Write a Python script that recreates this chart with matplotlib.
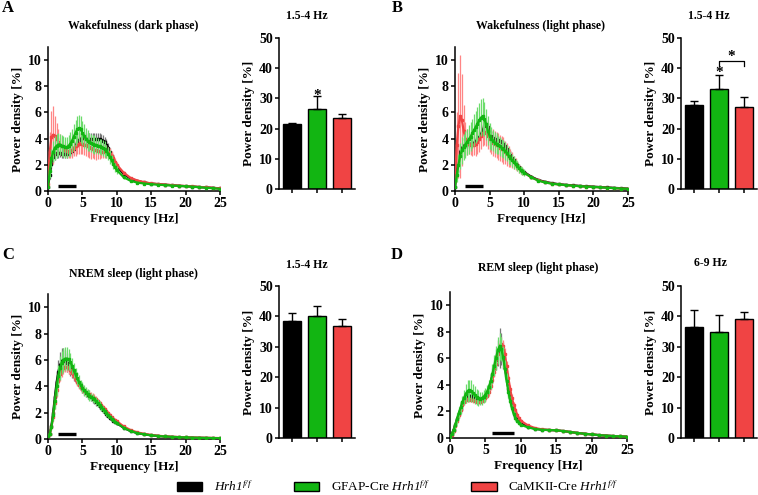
import numpy as np
import matplotlib
matplotlib.use("Agg")
import matplotlib.pyplot as plt
from matplotlib.patches import Patch

plt.rcParams['font.family'] = ['Liberation Serif', 'DejaVu Serif']
plt.rcParams['font.weight'] = 'bold'
plt.rcParams['mathtext.fontset'] = 'custom'
plt.rcParams['mathtext.rm'] = 'Liberation Serif:style=italic:weight=normal'
plt.rcParams['mathtext.it'] = 'Liberation Serif:style=italic:weight=normal'

# frequency bins: 0.25 Hz up to 10 Hz, then 1 Hz
freq = np.concatenate([np.arange(0, 10.01, 0.25), np.arange(11, 26, 1.0)])

groups = ['Hrh1 f/f', 'GFAP-Cre Hrh1 f/f', 'CaMKII-Cre Hrh1 f/f']
colors = ['#000000', '#12b512', '#f04444']
err_colors = ['#777777', '#6cdc6c', '#ff8585']

sem_tail = [0.1, 0.08, 0.06, 0.05, 0.05, 0.04, 0.04, 0.04, 0.03, 0.03, 0.03, 0.03, 0.03, 0.03, 0.03]

# ---- A: wakefulness dark phase
wake_dark_ctrl = [0.3, 1.2, 2.1, 2.6, 2.8, 2.9, 2.9, 2.9, 2.85, 2.85, 2.85, 2.85, 2.9, 2.95, 3.05, 3.2, 3.45, 3.7, 3.9, 4.0,
                  4.05, 4.05, 4.0, 3.95, 3.95, 3.95, 3.95, 3.95, 3.95, 3.95, 3.95, 3.9, 3.85, 3.75, 3.55, 3.3, 3.0, 2.7, 2.4, 2.15, 1.9,
                  1.3, 0.95, 0.76, 0.65, 0.57, 0.52, 0.48, 0.44, 0.40, 0.37, 0.34, 0.30, 0.27, 0.24, 0.20]
wake_dark_ctrl_sem = [0.1, 0.3, 0.4, 0.4, 0.4, 0.4, 0.35, 0.3, 0.3, 0.3, 0.3, 0.3, 0.3, 0.3, 0.35, 0.35, 0.4, 0.4, 0.45, 0.45,
                      0.45, 0.45, 0.45, 0.45, 0.45, 0.45, 0.45, 0.45, 0.45, 0.45, 0.45, 0.45, 0.4, 0.4, 0.4, 0.35, 0.3, 0.3, 0.25, 0.2, 0.2]
wake_dark_gfap = [0.3, 1.5, 2.5, 3.0, 3.3, 3.45, 3.55, 3.55, 3.45, 3.4, 3.35, 3.35, 3.45, 3.6, 3.85, 4.15, 4.45, 4.7, 4.8, 4.7,
                  4.45, 4.2, 4.0, 3.85, 3.75, 3.65, 3.6, 3.55, 3.5, 3.45, 3.4, 3.35, 3.3, 3.2, 3.05, 2.85, 2.6, 2.35, 2.05, 1.8, 1.6,
                  1.05, 0.78, 0.64, 0.57, 0.52, 0.48, 0.45, 0.42, 0.39, 0.36, 0.33, 0.29, 0.25, 0.21, 0.17]
wake_dark_gfap_sem = [0.1, 0.5, 0.7, 0.8, 0.9, 0.9, 0.9, 0.8, 0.8, 0.8, 0.8, 0.8, 0.8, 0.9, 0.9, 1.0, 1.0, 1.0, 1.0, 1.0,
                      0.9, 0.9, 0.8, 0.8, 0.7, 0.7, 0.7, 0.7, 0.6, 0.6, 0.6, 0.6, 0.6, 0.6, 0.5, 0.5, 0.5, 0.4, 0.4, 0.35, 0.3]
wake_dark_camk = [0.5, 3.0, 4.1, 4.3, 4.2, 4.0, 3.75, 3.55, 3.4, 3.25, 3.15, 3.05, 3.0, 3.05, 3.15, 3.3, 3.4, 3.5, 3.6, 3.65,
                  3.6, 3.55, 3.5, 3.4, 3.35, 3.25, 3.2, 3.15, 3.1, 3.05, 3.05, 3.0, 3.0, 3.0, 3.0, 2.95, 2.85, 2.7, 2.5, 2.25, 2.0,
                  1.4, 1.0, 0.8, 0.67, 0.58, 0.53, 0.49, 0.45, 0.41, 0.38, 0.35, 0.31, 0.28, 0.24, 0.20]
wake_dark_camk_sem = [0.3, 1.5, 2.0, 2.2, 1.5, 1.2, 1.0, 0.8, 0.7, 0.6, 0.5, 0.5, 0.5, 0.5, 0.6, 0.6, 0.7, 0.7, 0.8, 0.8,
                      0.8, 0.8, 0.8, 0.8, 0.8, 0.8, 0.7, 0.7, 0.7, 0.6, 0.6, 0.5, 0.5, 0.5, 0.5, 0.4, 0.4, 0.35, 0.3, 0.25, 0.2]

# ---- B: wakefulness light phase
wake_light_ctrl = [0.3, 1.5, 2.5, 3.0, 3.3, 3.45, 3.55, 3.6, 3.6, 3.6, 3.6, 3.7, 3.8, 3.95, 4.1, 4.35, 4.65, 4.95, 5.1, 4.9,
                   4.5, 4.2, 4.05, 3.95, 3.9, 3.9, 3.85, 3.75, 3.6, 3.4, 3.2, 2.95, 2.75, 2.55, 2.35, 2.15, 2.0, 1.85, 1.7, 1.55, 1.45,
                   1.1, 0.85, 0.7, 0.6, 0.52, 0.47, 0.43, 0.39, 0.36, 0.33, 0.3, 0.27, 0.24, 0.21, 0.18]
wake_light_ctrl_sem = [0.1, 0.3, 0.4, 0.4, 0.4, 0.3, 0.3, 0.3, 0.3, 0.3, 0.3, 0.3, 0.3, 0.3, 0.3, 0.3, 0.3, 0.3, 0.3, 0.3,
                       0.3, 0.3, 0.3, 0.3, 0.3, 0.3, 0.3, 0.3, 0.3, 0.3, 0.3, 0.25, 0.25, 0.2, 0.2, 0.2, 0.15, 0.15, 0.15, 0.1, 0.1]
wake_light_gfap = [0.3, 1.2, 2.0, 2.7, 3.1, 3.35, 3.55, 3.75, 3.95, 4.15, 4.4, 4.65, 4.9, 5.15, 5.4, 5.6, 5.7, 5.5, 5.1, 4.6,
                   4.2, 4.0, 3.85, 3.7, 3.6, 3.5, 3.4, 3.3, 3.2, 3.05, 2.9, 2.7, 2.5, 2.35, 2.2, 2.05, 1.9, 1.75, 1.6, 1.5, 1.4,
                   1.05, 0.8, 0.65, 0.56, 0.5, 0.45, 0.41, 0.37, 0.34, 0.31, 0.28, 0.25, 0.22, 0.19, 0.16]
wake_light_gfap_sem = [0.1, 0.5, 0.8, 1.0, 1.0, 1.0, 1.0, 1.0, 1.1, 1.1, 1.1, 1.2, 1.2, 1.3, 1.3, 1.4, 1.4, 1.3, 1.2, 1.1,
                       1.0, 0.9, 0.8, 0.8, 0.8, 0.7, 0.7, 0.7, 0.7, 0.7, 0.6, 0.6, 0.5, 0.5, 0.5, 0.4, 0.4, 0.35, 0.3, 0.3, 0.25]
wake_light_camk = [0.8, 3.5, 5.0, 5.7, 5.4, 4.6, 4.0, 3.75, 3.6, 3.55, 3.5, 3.55, 3.6, 3.75, 3.95, 4.2, 4.4, 4.5, 4.4, 4.2,
                   4.0, 3.85, 3.7, 3.6, 3.5, 3.4, 3.3, 3.2, 3.1, 2.95, 2.8, 2.65, 2.5, 2.35, 2.2, 2.05, 1.9, 1.75, 1.6, 1.5, 1.4,
                   1.05, 0.82, 0.67, 0.57, 0.5, 0.45, 0.41, 0.37, 0.34, 0.31, 0.28, 0.25, 0.22, 0.19, 0.16]
wake_light_camk_sem = [0.3, 2.5, 4.0, 4.7, 3.5, 2.0, 1.3, 1.0, 0.8, 0.8, 0.8, 0.8, 0.9, 0.9, 1.0, 1.0, 1.0, 1.0, 1.0, 1.0,
                       1.0, 1.0, 1.0, 1.0, 1.0, 1.0, 1.0, 1.0, 1.0, 0.9, 0.9, 0.8, 0.7, 0.6, 0.5, 0.45, 0.4, 0.35, 0.3, 0.25, 0.2]

# ---- C: NREM sleep light phase
nrem_ctrl = [0.2, 0.4, 1.0, 2.0, 3.2, 4.3, 5.1, 5.6, 5.9, 6.0, 5.95, 5.8, 5.55, 5.3, 5.05, 4.8, 4.6, 4.4, 4.2, 4.0,
             3.8, 3.65, 3.5, 3.35, 3.25, 3.15, 3.05, 2.95, 2.8, 2.65, 2.5, 2.35, 2.2, 2.05, 1.9, 1.75, 1.6, 1.5, 1.4, 1.3, 1.2,
             0.85, 0.6, 0.45, 0.35, 0.28, 0.23, 0.19, 0.16, 0.14, 0.12, 0.1, 0.09, 0.08, 0.07, 0.06]
nrem_ctrl_sem = [0.05, 0.1, 0.2, 0.4, 0.6, 0.8, 0.9, 1.0, 1.0, 0.9, 0.8, 0.7, 0.6, 0.5, 0.4, 0.4, 0.3, 0.3, 0.3, 0.3,
                 0.3, 0.3, 0.3, 0.3, 0.3, 0.3, 0.3, 0.3, 0.3, 0.2, 0.2, 0.2, 0.2, 0.2, 0.2, 0.15, 0.15, 0.1, 0.1, 0.1, 0.1]
nrem_gfap = [0.2, 0.4, 0.9, 1.8, 2.9, 4.0, 4.8, 5.4, 5.8, 6.0, 6.1, 6.1, 6.05, 5.85, 5.55, 5.2, 4.9, 4.6, 4.35, 4.1,
             3.9, 3.7, 3.55, 3.4, 3.3, 3.2, 3.1, 3.0, 2.85, 2.7, 2.55, 2.4, 2.25, 2.1, 1.95, 1.8, 1.65, 1.52, 1.42, 1.32, 1.22,
             0.85, 0.6, 0.45, 0.35, 0.28, 0.23, 0.19, 0.16, 0.14, 0.12, 0.1, 0.09, 0.08, 0.07, 0.06]
nrem_gfap_sem = [0.05, 0.1, 0.2, 0.4, 0.6, 0.7, 0.8, 0.9, 0.9, 0.9, 0.9, 0.9, 0.8, 0.7, 0.6, 0.6, 0.5, 0.5, 0.5, 0.4,
                 0.4, 0.4, 0.4, 0.4, 0.4, 0.3, 0.3, 0.3, 0.3, 0.3, 0.3, 0.25, 0.25, 0.2, 0.2, 0.2, 0.15, 0.15, 0.1, 0.1, 0.1]
nrem_camk = [0.2, 0.4, 0.9, 1.7, 2.7, 3.7, 4.4, 4.9, 5.2, 5.4, 5.5, 5.45, 5.35, 5.2, 5.0, 4.75, 4.5, 4.3, 4.1, 3.95,
             3.8, 3.65, 3.55, 3.45, 3.4, 3.3, 3.2, 3.1, 3.0, 2.85, 2.7, 2.55, 2.4, 2.25, 2.1, 1.95, 1.8, 1.65, 1.55, 1.45, 1.35,
             0.95, 0.68, 0.5, 0.39, 0.31, 0.25, 0.2, 0.17, 0.15, 0.13, 0.11, 0.1, 0.09, 0.08, 0.07]
nrem_camk_sem = [0.05, 0.1, 0.2, 0.3, 0.4, 0.5, 0.5, 0.5, 0.5, 0.5, 0.4, 0.4, 0.4, 0.3, 0.3, 0.3, 0.3, 0.3, 0.3, 0.3,
                 0.3, 0.3, 0.3, 0.3, 0.3, 0.3, 0.3, 0.3, 0.3, 0.2, 0.2, 0.2, 0.2, 0.2, 0.2, 0.15, 0.15, 0.1, 0.1, 0.1, 0.1]

# ---- D: REM sleep light phase
rem_ctrl = [0.1, 0.3, 0.6, 1.0, 1.4, 1.8, 2.2, 2.6, 2.9, 3.1, 3.2, 3.2, 3.15, 3.05, 2.95, 2.9, 2.85, 2.85, 2.9, 3.0,
            3.15, 3.4, 3.75, 4.2, 4.75, 5.3, 5.9, 6.4, 6.8, 6.7, 6.2, 5.4, 4.5, 3.7, 3.0, 2.4, 1.95, 1.65, 1.4, 1.25, 1.1,
            0.85, 0.7, 0.62, 0.6, 0.58, 0.52, 0.45, 0.38, 0.32, 0.27, 0.22, 0.18, 0.15, 0.12, 0.1]
rem_ctrl_sem = [0.05, 0.1, 0.2, 0.2, 0.3, 0.3, 0.3, 0.3, 0.3, 0.3, 0.3, 0.3, 0.3, 0.3, 0.3, 0.3, 0.3, 0.3, 0.3, 0.3,
                0.3, 0.3, 0.3, 0.4, 0.5, 0.6, 0.8, 1.0, 1.5, 1.2, 1.0, 0.8, 0.6, 0.5, 0.4, 0.3, 0.2, 0.2, 0.15, 0.15, 0.1]
rem_gfap = [0.1, 0.3, 0.6, 1.0, 1.45, 1.9, 2.3, 2.7, 3.05, 3.35, 3.55, 3.6, 3.55, 3.4, 3.25, 3.1, 3.0, 2.95, 3.0, 3.1,
            3.25, 3.5, 3.85, 4.3, 4.85, 5.45, 6.05, 6.6, 6.9, 6.7, 6.1, 5.2, 4.3, 3.5, 2.8, 2.25, 1.8, 1.5, 1.3, 1.15, 1.0,
            0.8, 0.68, 0.62, 0.6, 0.58, 0.52, 0.45, 0.38, 0.32, 0.27, 0.22, 0.18, 0.15, 0.12, 0.1]
rem_gfap_sem = [0.05, 0.1, 0.2, 0.3, 0.4, 0.4, 0.5, 0.5, 0.6, 0.7, 0.8, 0.8, 0.8, 0.7, 0.7, 0.6, 0.6, 0.5, 0.5, 0.5,
                0.5, 0.5, 0.5, 0.6, 0.7, 0.8, 0.9, 1.0, 1.0, 0.9, 0.8, 0.7, 0.6, 0.5, 0.4, 0.3, 0.25, 0.2, 0.15, 0.15, 0.1]
rem_camk = [0.1, 0.25, 0.55, 0.9, 1.3, 1.7, 2.1, 2.45, 2.7, 2.85, 2.95, 2.95, 2.9, 2.85, 2.8, 2.75, 2.75, 2.75, 2.8, 2.9,
            3.0, 3.2, 3.5, 3.9, 4.4, 5.0, 5.6, 6.3, 6.9, 7.1, 6.9, 6.3, 5.4, 4.5, 3.7, 3.0, 2.5, 2.1, 1.75, 1.5, 1.3,
            0.95, 0.75, 0.65, 0.61, 0.58, 0.52, 0.45, 0.38, 0.32, 0.27, 0.22, 0.18, 0.15, 0.12, 0.1]
rem_camk_sem = [0.05, 0.1, 0.1, 0.2, 0.2, 0.2, 0.2, 0.2, 0.2, 0.2, 0.2, 0.2, 0.2, 0.2, 0.2, 0.2, 0.2, 0.2, 0.2, 0.2,
                0.2, 0.2, 0.3, 0.3, 0.3, 0.4, 0.4, 0.5, 0.5, 0.5, 0.5, 0.5, 0.4, 0.4, 0.3, 0.3, 0.2, 0.2, 0.15, 0.1, 0.1]

# band power bars (mean, sem)
band_a = [21.6, 26.5, 23.6]
band_a_sem = [0.3, 4.3, 1.3]
band_b = [27.7, 33.0, 27.0]
band_b_sem = [1.5, 4.6, 3.5]
band_c = [38.6, 40.2, 36.7]
band_c_sem = [2.4, 3.3, 2.3]
band_d = [36.5, 35.0, 39.2]
band_d_sem = [5.5, 5.4, 2.1]

panels = [
    dict(letter='A', title='Wakefulness (dark phase)', band='1.5-4 Hz', hl=(1.5, 4),
         spec=[(wake_dark_ctrl, wake_dark_ctrl_sem), (wake_dark_gfap, wake_dark_gfap_sem), (wake_dark_camk, wake_dark_camk_sem)],
         bars=band_a, bars_sem=band_a_sem,
         spec_pos=[48, 220, 47, 191], bar_pos=[279, 355, 38, 189], title_xy=(133, 26), band_xy=(307, 16), letter_xy=(8, 8)),
    dict(letter='B', title='Wakefulness (light phase)', band='1.5-4 Hz', hl=(1.5, 4),
         spec=[(wake_light_ctrl, wake_light_ctrl_sem), (wake_light_gfap, wake_light_gfap_sem), (wake_light_camk, wake_light_camk_sem)],
         bars=band_b, bars_sem=band_b_sem,
         spec_pos=[455, 628, 47, 191], bar_pos=[681, 757, 38, 189], title_xy=(540, 26), band_xy=(709, 16), letter_xy=(397, 8)),
    dict(letter='C', title='NREM sleep (light phase)', band='1.5-4 Hz', hl=(1.5, 4),
         spec=[(nrem_ctrl, nrem_ctrl_sem), (nrem_gfap, nrem_gfap_sem), (nrem_camk, nrem_camk_sem)],
         bars=band_c, bars_sem=band_c_sem,
         spec_pos=[48, 220, 294, 439], bar_pos=[279, 355, 286, 438], title_xy=(133, 274), band_xy=(307, 265), letter_xy=(8, 255)),
    dict(letter='D', title='REM sleep (light phase)', band='6-9 Hz', hl=(6, 9),
         spec=[(rem_ctrl, rem_ctrl_sem), (rem_gfap, rem_gfap_sem), (rem_camk, rem_camk_sem)],
         bars=band_d, bars_sem=band_d_sem,
         spec_pos=[450, 627, 292, 438], bar_pos=[681, 757, 286, 438], title_xy=(538, 268), band_xy=(710, 263), letter_xy=(397, 255)),
]

W, H = 758, 495
fig = plt.figure(figsize=(W / 100, H / 100), dpi=100)


def px_axes(x0, x1, ytop, ybot):
    return fig.add_axes([x0 / W, 1 - ybot / H, (x1 - x0) / W, (ybot - ytop) / H])


def style(ax):
    for s in ['top', 'right']:
        ax.spines[s].set_visible(False)
    for s in ['left', 'bottom']:
        ax.spines[s].set_linewidth(1.1)
    ax.tick_params(direction='out', length=3, width=1.1, labelsize=10, pad=1.5)
    for lab in ax.get_xticklabels() + ax.get_yticklabels():
        lab.set_fontweight('bold')


sem_full = lambda s: list(s) + sem_tail

for p in panels:
    ax = px_axes(*p['spec_pos'])
    order = [0, 2, 1]  # black, red, then green on top
    for k, gi in enumerate(order):
        vals, sem = p['spec'][gi]
        ax.errorbar(freq, vals, yerr=sem_full(sem), fmt='-', color=colors[gi], lw=1.6,
                    marker='s', ms=1.6, ecolor=err_colors[gi], elinewidth=0.9, capsize=0, zorder=2 + k)
    ax.plot(p['hl'], [0.4, 0.4], color='black', lw=2.4, solid_capstyle='butt', zorder=10)
    ax.set_xlim(0, 25)
    ax.set_ylim(0, 11)
    ax.set_xticks([0, 5, 10, 15, 20, 25])
    ax.set_yticks([0, 2, 4, 6, 8, 10])
    style(ax)
    ax.set_xlabel('Frequency [Hz]', fontsize=9.5, fontweight='bold', labelpad=2)
    ax.set_ylabel('Power density [%]', fontsize=9.5, fontweight='bold', labelpad=3)

    bx = px_axes(*p['bar_pos'])
    xs = np.arange(3)
    bx.bar(xs, p['bars'], width=0.72, color=colors, edgecolor='black', linewidth=1.0, zorder=2)
    for i in range(3):
        bx.errorbar(xs[i], p['bars'][i], yerr=[[0], [p['bars_sem'][i]]], fmt='none',
                    ecolor='black', elinewidth=1.0, capsize=3, capthick=1.0, zorder=3)
    bx.set_xlim(-0.52, 2.52)
    bx.set_ylim(0, 50)
    bx.set_yticks([0, 10, 20, 30, 40, 50])
    bx.set_xticks(xs)
    bx.set_xticklabels([])
    style(bx)
    bx.set_ylabel('Power density [%]', fontsize=9.5, fontweight='bold', labelpad=3)

    fig.text(p['title_xy'][0] / W, 1 - p['title_xy'][1] / H, p['title'], ha='center', va='center',
             fontsize=8.5, fontweight='bold')
    fig.text(p['band_xy'][0] / W, 1 - p['band_xy'][1] / H, p['band'], ha='center', va='center',
             fontsize=8.5, fontweight='bold')
    fig.text(p['letter_xy'][0] / W, 1 - p['letter_xy'][1] / H, p['letter'], ha='center', va='center',
             fontsize=12, fontweight='bold')

    if p['letter'] == 'A':
        bx.text(1, 31.0, '*', ha='center', va='center', fontsize=11, fontweight='bold')
    if p['letter'] == 'B':
        bx.text(1, 38.5, '*', ha='center', va='center', fontsize=11, fontweight='bold')
        bx.plot([1, 1, 2, 2], [40.8, 42.4, 42.4, 40.8], color='black', lw=0.9)
        bx.text(1.5, 44.0, '*', ha='center', va='center', fontsize=11, fontweight='bold')

handles = [Patch(facecolor=c, edgecolor='black', linewidth=1.0) for c in colors]
labels = [r'$Hrh1^{f/f}$', r'GFAP-Cre $Hrh1^{f/f}$', r'CaMKII-Cre $Hrh1^{f/f}$']
leg = fig.legend(handles, labels, loc='center', bbox_to_anchor=(0.525, 1 - 487 / H), ncol=3, frameon=False,
                 fontsize=9.5, handlelength=1.9, handleheight=0.6, columnspacing=3.1, handletextpad=0.9)
for t in leg.get_texts():
    t.set_fontweight('normal')

fig.savefig('out.png', dpi=100)
